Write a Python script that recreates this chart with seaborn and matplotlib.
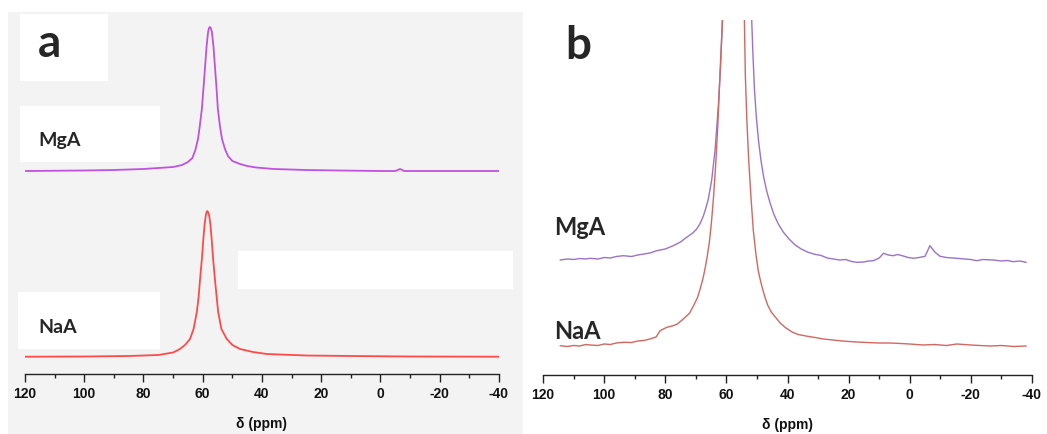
import matplotlib
matplotlib.use("Agg")
import matplotlib.pyplot as plt
import matplotlib.patches as mpatches
from matplotlib.ticker import MultipleLocator
import seaborn as sns
import pandas as pd

# ---------------- data ----------------
# Panel a: chemical shift (ppm) and displayed intensity (offset included)
a_mga_ppm = [120, 100, 90, 80, 75, 70, 67, 65, 63.5, 62.5, 61.6, 61, 60.3, 59.7, 59.2,
             58.7, 58.2, 57.9, 57.6, 57.3, 56.9, 56.4, 55.9, 55.4, 54.9, 54.2, 53.5, 52.5,
             51.5, 50, 47.4, 45, 42, 36, 25, 14, 0, -5, -6.6, -8, -20, -40]
a_mga_int = [203, 203.5, 204, 205, 206, 207, 209, 212, 216, 224, 235, 248, 265, 288, 308,
             328, 342, 346, 347, 346, 342, 328, 308, 288, 265, 248, 235, 225,
             218, 213, 210, 208, 206.5, 205, 204, 203.5, 203, 203, 205, 203, 203, 203]

a_naa_ppm = [120, 100, 85, 75, 70, 67.7, 66, 64.3, 63.1, 62.0, 61.4, 60.9, 60.3, 59.8,
             59.4, 59.0, 58.7, 58.5, 58.2, 57.8, 57.4, 57.0, 56.5, 55.9, 55.3, 54.8, 53.7,
             51.9, 50, 47.4, 43, 38.4, 25, 10, -10, -40]
a_naa_int = [17.3, 17.5, 18, 19, 21.5, 25, 29, 35, 45, 62, 77, 95, 115, 135,
             149, 158, 162, 163, 162, 158, 149, 135, 115, 95, 77, 62, 45,
             35, 29, 25, 22, 20, 18.5, 18, 17.5, 17.3]

# Panel b: vertically expanded view (central peak goes off scale)
b_mga_ppm = [114.4, 112, 110, 108, 106, 104.6, 102, 100, 98, 96, 93.7, 91, 89, 87, 85,
             82.8, 80, 77.4, 75, 73.0, 71, 69.7, 68.5, 67.5, 66.7, 65.9, 64.8, 63.7, 62.6,
             61.9, 61.3,
             56.5,
             51.7, 51.3, 50.8, 50.2, 49.5, 48.7, 47.8, 46.8, 45.7, 44.5, 43, 41.4, 39.5,
             37.5, 35.5, 33.5, 31.5, 29, 27,
             25.0, 23, 21, 19, 17.3, 15, 13.5, 11.9, 10, 8.6, 7, 5.4, 4, 2.1, 0.5, -1.2, -3,
             -5.0, -6.6, -8.3, -9.9, -12, -15.4, -18, -20, -21.9, -24, -27.4, -30, -32,
             -33.9, -36, -38.1]
b_mga_int = [115, 116, 115.5, 116.5, 116, 116.7, 116, 117.5, 117, 118.5, 119.3, 118.5, 120,
             121, 122, 124.3, 126, 129.3, 133, 137.7, 142, 146, 152, 159.3, 167, 176, 195,
             225, 270, 309, 354,
             2000,
             354, 320, 285, 258, 235, 215, 198, 184, 172, 161, 151, 143, 136,
             130, 126, 123, 121, 119.5, 117,
             116, 115, 115.5, 113.5, 112.7, 113, 114, 114.3, 117, 121.7, 120, 119.3, 120.5,
             119, 117.5, 116.7, 117.5, 118.7, 129.3, 122.7, 118.7, 117.5, 116.7, 116, 115.5,
             114.3, 115.5, 115, 114, 114.5, 113.3, 114, 112.7]

b_naa_ppm = [114.4, 112, 110, 108, 106, 104.6, 102, 100, 98, 96, 93.7, 91, 89, 87, 85.0,
             83, 81.7, 79.5, 77.4, 76, 74.1, 72, 70.8, 69.5, 68.6, 67.7, 67.0, 66.3, 65.6,
             64.9, 64.2, 63.5, 62.8, 62.1, 61.3,
             57.7,
             54.1, 53.8, 53.3, 52.7, 52.0, 51.2, 50.3, 49.5, 48.5, 47.5, 46.5, 45.3, 44,
             42.4, 40.5, 38.5, 36.5, 34, 31, 28.3, 25, 22, 20, 17.3, 14, 10, 6.5, 3, 0,
             -4.4, -8, -12, -15.4, -20, -23, -26.3, -30, -34, -38.1]
b_naa_int = [29.3, 28.5, 29.5, 29, 30.5, 30, 29.5, 31, 30.5, 32, 32.7, 32.5, 34, 34.5, 36,
             38, 44.3, 47.7, 49.3, 51, 56, 62, 69, 77, 86, 96, 106, 118, 132,
             152, 178, 210, 250, 300, 354,
             3000,
             354, 300, 255, 215, 180, 145, 120, 103, 90, 79, 70, 63, 58,
             52, 47, 43, 40.5, 39, 37.5, 36, 35, 34, 33.5, 33, 32.5, 32, 32, 31.5, 31,
             30, 30.5, 29.5, 31, 30, 29.5, 29, 29.5, 28.5, 29]

labels = ["MgA", "NaA"]
tick_values = [120, 100, 80, 60, 40, 20, 0, -20, -40]
xlabel = "δ (ppm)"

# ---------------- figure ----------------
sns.set_style("white")
plt.rcParams["font.family"] = ["Liberation Sans", "DejaVu Sans"]

W, H = 1047, 435
fig = plt.figure(figsize=(W / 100, H / 100), dpi=100)
fig.patch.set_facecolor("white")


def fx(px):
    return px / W


def fy(py):
    return 1 - py / H


# grey backdrop of panel a and white label patches (as in the scanned figure)
fig.add_artist(mpatches.Rectangle((fx(8), 0), fx(515), fy(13), transform=fig.transFigure,
                                  facecolor="#f3f3f3", edgecolor="none", zorder=-3))
for (x0, y0, x1, y1) in [(20, 15, 108, 82), (20, 107, 160, 163), (18, 293, 160, 350),
                         (238, 252, 513, 290)]:
    fig.add_artist(mpatches.Rectangle((fx(x0), fy(y1)), fx(x1 - x0), (y1 - y0) / H,
                                      transform=fig.transFigure, facecolor="white",
                                      edgecolor="none", zorder=-2))

panels = [
    dict(px=(25, 499), py=(13, 375), ymax=362,
         series=[(a_mga_ppm, a_mga_int, "#c052e0"), (a_naa_ppm, a_naa_int, "#ff4a4a")],
         lw=1.3),
    dict(px=(543, 1032), py=(21, 376), ymax=355,
         series=[(b_mga_ppm, b_mga_int, "#9a72cc"), (b_naa_ppm, b_naa_int, "#d2675f")],
         lw=1.0),
]

for p in panels:
    x0, x1 = p["px"]
    y0, y1 = p["py"]
    ax = fig.add_axes([fx(x0), fy(y1), fx(x1 - x0), (y1 - y0) / H])
    ax.set_facecolor("none")
    for ppm, inten, col in p["series"]:
        df = pd.DataFrame({"ppm": ppm, "int": inten})
        sns.lineplot(data=df, x="ppm", y="int", ax=ax, color=col, lw=p["lw"],
                     estimator=None, sort=True)
    ax.set_xlim(120, -40)
    ax.set_ylim(0, p["ymax"])
    for s in ["top", "left", "right"]:
        ax.spines[s].set_visible(False)
    ax.spines["bottom"].set_color("#222222")
    ax.spines["bottom"].set_linewidth(1.0)
    ax.set_yticks([])
    ax.set_ylabel("")
    ax.set_xticks(tick_values)
    ax.set_xticklabels([str(t) for t in tick_values], fontweight="bold", fontsize=10,
                       color="#111111")
    ax.xaxis.set_minor_locator(MultipleLocator(10))
    ax.tick_params(axis="x", which="major", direction="out", length=6, width=1.0,
                   pad=3, color="#222222", bottom=True)
    ax.tick_params(axis="x", which="minor", direction="out", length=3, width=1.0,
                   color="#222222", bottom=True)
    ax.set_xlabel(xlabel, fontweight="bold", fontsize=10, labelpad=11, color="#111111")

# panel letters and sample labels
lab_font = ["Lato", "DejaVu Sans"]
fig.text(fx(38), fy(57), "a", fontsize=33, fontweight="bold", family=lab_font,
         va="baseline", ha="left")
fig.text(fx(565), fy(59), "b", fontsize=33, fontweight="bold", family=lab_font,
         va="baseline", ha="left")
fig.text(fx(38), fy(146), labels[0], fontsize=14, fontweight="bold", family=lab_font,
         va="baseline", ha="left")
fig.text(fx(38), fy(333), labels[1], fontsize=14, fontweight="bold", family=lab_font,
         va="baseline", ha="left")
fig.text(fx(554), fy(235), labels[0], fontsize=17, fontweight="bold", family=lab_font,
         va="baseline", ha="left")
fig.text(fx(554), fy(339), labels[1], fontsize=17, fontweight="bold", family=lab_font,
         va="baseline", ha="left")

fig.savefig("out.png", dpi=100)
